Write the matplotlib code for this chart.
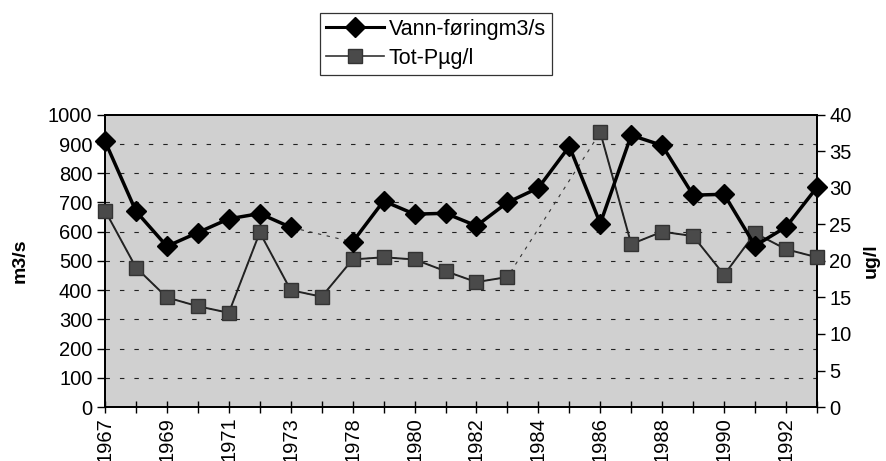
import numpy as np
import matplotlib
matplotlib.use("Agg")
import matplotlib.pyplot as plt
from matplotlib.lines import Line2D

plt.rcParams['font.family'] = ['Liberation Sans', 'DejaVu Sans']

years = ['1967', '1968', '1969', '1970', '1971', '1972', '1973', '1976',
         '1978', '1979', '1980', '1981', '1982', '1983', '1984', '1985',
         '1986', '1987', '1988', '1989', '1990', '1991', '1992', '1993']
vann = [910, 670, 550, 597, 644, 662, 615, np.nan,
        565, 705, 660, 663, 620, 700, 750, 892,
        628, 930, 895, 725, 728, 552, 616, 752]
totp = [26.9, 19.1, 15.0, 13.8, 12.9, 23.9, 16.0, 15.1,
        20.2, 20.5, 20.2, 18.6, 17.1, 17.8, np.nan, np.nan,
        37.6, 22.3, 24.0, 23.4, 18.1, 23.8, 21.6, 20.5]
label_years = years[0:23:2]
left_ticks = list(range(0, 1001, 100))
right_ticks = list(range(0, 41, 5))

fig = plt.figure(figsize=(8.86, 4.61), dpi=100)
ax = fig.add_axes([0.1185, 0.117, 0.8036, 0.634])
ax2 = ax.twinx()

x = np.arange(len(years))
vann_a = np.array(vann, dtype=float)
totp_a = np.array(totp, dtype=float)

ax.set_facecolor('#d0d0d0')
ax.set_zorder(1)
ax2.set_zorder(2)
ax2.patch.set_visible(False)

# gridlines
for v in left_ticks[1:-1]:
    ax.axhline(v, color='#222222', lw=0.8, ls=(0, (4, 9)), zorder=1)

# faint gap connectors
mv = ~np.isnan(vann_a)
ax.plot(x[mv], vann_a[mv], color='#333333', lw=0.8, ls=(0, (3, 5)), zorder=2)
mt = ~np.isnan(totp_a)
ax2.plot(x[mt], totp_a[mt], color='#333333', lw=0.8, ls=(0, (3, 5)), zorder=2)

ax2.plot(x, totp_a, color='#222222', lw=1.4, marker='s', markersize=10,
         markerfacecolor='#4a4a4a', markeredgecolor='#333333', zorder=3,
         clip_on=False)
ax2.plot(x, vann_a / 25.0, color='black', lw=2.5, marker='D', markersize=10.5,
         markerfacecolor='black', markeredgecolor='black', zorder=4,
         clip_on=False)

ax.set_xlim(0, len(years) - 1)
ax.set_ylim(0, 1000)
ax2.set_ylim(0, 40)
ax.set_yticks(left_ticks)
ax2.set_yticks(right_ticks)
ax.set_xticks(x)
ax.set_xticklabels([y if y in label_years and i % 2 == 0 else '' for i, y in enumerate(years)],
                   rotation=90)

for a in (ax, ax2):
    for s in a.spines.values():
        s.set_linewidth(1.3)
        s.set_color('black')

ax.tick_params(axis='y', labelsize=14.5, direction='out', length=6, width=1, pad=3)
ax2.tick_params(axis='y', labelsize=14.5, direction='out', length=6, width=1, pad=3)
ax.tick_params(axis='x', labelsize=14.5, direction='inout', length=8, width=1, pad=3)

ax.set_ylabel('m3/s', fontsize=14, fontweight='bold', labelpad=14)
ax2.set_ylabel('ug/l', fontsize=14, fontweight='bold', rotation=90, labelpad=8)

h1 = Line2D([], [], color='black', lw=2.2, marker='D', markersize=10)
h2 = Line2D([], [], color='#333333', lw=1.2, marker='s', markersize=10,
            markerfacecolor='#4a4a4a', markeredgecolor='#333333')
leg = fig.legend([h1, h2], ['Vann-føringm3/s', 'Tot-Pµg/l'], loc='center',
                 bbox_to_anchor=(0.492, 0.905), fontsize=15.5, frameon=True,
                 fancybox=False, edgecolor='black', handlelength=2.7,
                 handletextpad=0.2, borderpad=0.3, labelspacing=0.35)
leg.get_frame().set_linewidth(0.9)

fig.savefig('out.png', dpi=100)
